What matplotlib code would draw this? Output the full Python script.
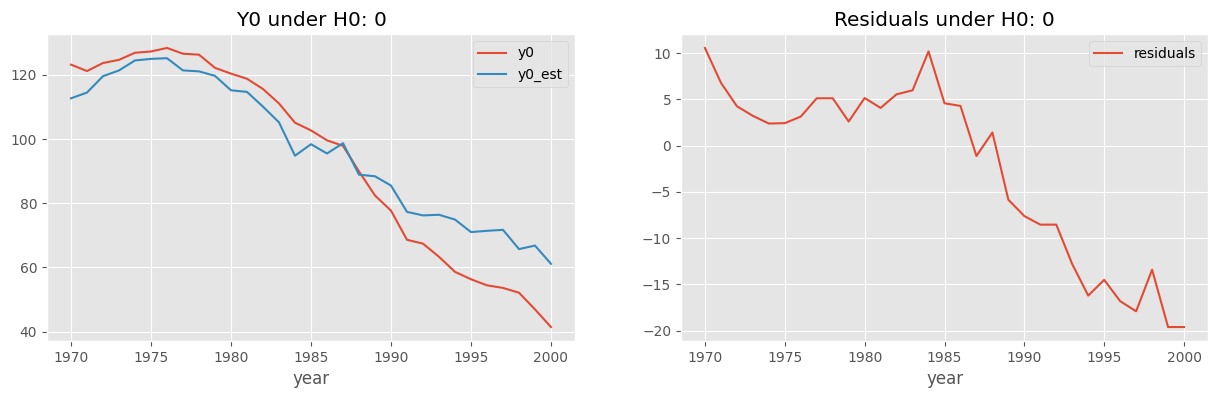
import matplotlib
matplotlib.use('Agg')
import matplotlib.pyplot as plt
import numpy as np

plt.style.use('ggplot')

years = np.arange(1970, 2001)

y0 = [123.2, 121.2, 123.7, 124.7, 126.9, 127.3, 128.4, 126.6, 126.3, 122.2,
      120.4, 118.8, 115.6, 111.1, 105.1, 102.7, 99.6, 97.9, 89.9, 82.4,
      77.7, 68.6, 67.4, 63.3, 58.6, 56.3, 54.4, 53.6, 52.1, 46.9, 41.4]

y0_est = [112.7, 114.5, 119.6, 121.4, 124.5, 125.0, 125.2, 121.4, 121.1, 119.7,
          115.2, 114.7, 110.1, 105.2, 94.8, 98.4, 95.5, 98.7, 88.9, 88.4,
          85.5, 77.3, 76.2, 76.4, 74.9, 71.0, 71.4, 71.7, 65.7, 66.8, 61.1]

residuals = [10.57, 6.81, 4.27, 3.23, 2.40, 2.44, 3.15, 5.13, 5.13, 2.62,
             5.16, 4.09, 5.56, 5.99, 10.2, 4.59, 4.30, -1.11, 1.43, -5.84,
             -7.60, -8.53, -8.53, -12.8, -16.2, -14.5, -16.8, -17.9, -13.4, -19.6, -19.6]

fig = plt.figure(figsize=(12.18, 3.95), dpi=100)
W, H = 1218, 395
ax1 = fig.add_axes([47 / W, 1 - 341 / H, (575 - 47) / W, (341 - 34) / H])
ax2 = fig.add_axes([681 / W, 1 - 341 / H, (1208 - 681) / W, (341 - 34) / H])

# left: y0 vs estimate
ax1.plot(years, y0, label='y0')
ax1.plot(years, y0_est, label='y0_est')
ax1.set_title('Y0 under H0: 0')
ax1.set_xlabel('year')
ax1.legend(loc='upper right')

# right: residuals
ax2.plot(years, residuals, label='residuals')
ax2.set_title('Residuals under H0: 0')
ax2.set_xlabel('year')
ax2.legend(loc='upper right')

fig.savefig('out.png', dpi=100)
